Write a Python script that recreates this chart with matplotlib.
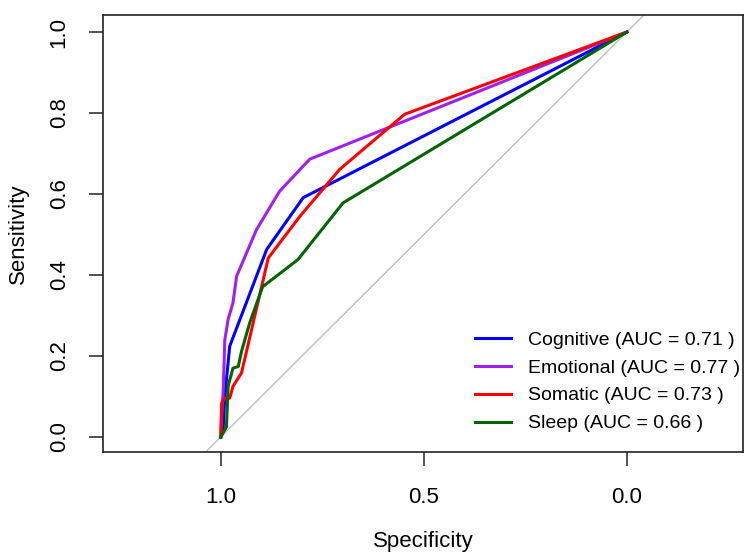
import matplotlib
matplotlib.use("Agg")
import matplotlib.pyplot as plt

plt.rcParams['font.family'] = ['Liberation Sans', 'DejaVu Sans']

# ROC curves (specificity, sensitivity)
cog_spec = [1.0, 0.994, 0.990, 0.978, 0.887, 0.797, 0.0]
cog_sens = [0.0, 0.025, 0.100, 0.224, 0.463, 0.591, 1.0]

emo_spec = [1.0, 0.998, 0.994, 0.990, 0.982, 0.970, 0.961, 0.912, 0.855, 0.781, 0.0]
emo_sens = [0.0, 0.050, 0.116, 0.240, 0.290, 0.331, 0.397, 0.512, 0.607, 0.686, 1.0]

som_spec = [1.0, 0.998, 0.990, 0.978, 0.970, 0.949, 0.883, 0.805, 0.707, 0.547, 0.0]
som_sens = [0.0, 0.083, 0.096, 0.096, 0.125, 0.158, 0.442, 0.545, 0.661, 0.797, 1.0]

slp_spec = [1.0, 0.986, 0.982, 0.970, 0.957, 0.949, 0.929, 0.897, 0.810, 0.699, 0.0]
slp_sens = [0.0, 0.025, 0.125, 0.170, 0.174, 0.211, 0.281, 0.371, 0.438, 0.578, 1.0]

labels = ["Cognitive (AUC = 0.71 )", "Emotional (AUC = 0.77 )",
          "Somatic (AUC = 0.73 )", "Sleep (AUC = 0.66 )"]
colors = ["#0000FF", "#A020F0", "#FF0000", "#006400"]

fig = plt.figure(figsize=(7.44, 5.52), dpi=100)
ax = fig.add_axes([103 / 744, 1 - 452 / 552, 640 / 744, 437 / 552])

# chance diagonal
ax.plot([1.5, -0.5], [-0.5, 1.5], color="#BEBEBE", lw=1.0, zorder=1)

curves = [(cog_spec, cog_sens), (emo_spec, emo_sens),
          (som_spec, som_sens), (slp_spec, slp_sens)]
for (sp, se), col, lab in zip(curves, colors, labels):
    ax.plot(sp, se, color=col, lw=2.2, label=lab, zorder=2)

ax.set_xlim(1.29, -0.286)
ax.set_ylim(-0.037, 1.042)
ax.set_xticks([1.0, 0.5, 0.0])
ax.set_xticklabels(["1.0", "0.5", "0.0"])
ax.set_yticks([0.0, 0.2, 0.4, 0.6, 0.8, 1.0])
ax.set_yticklabels(["0.0", "0.2", "0.4", "0.6", "0.8", "1.0"], rotation=90, va="center")

ax.tick_params(axis="x", length=10, width=1.1, pad=15.5, labelsize=16, color="#222222")
ax.tick_params(axis="y", length=10, width=1.1, pad=14, labelsize=16, color="#222222")
for s in ax.spines.values():
    s.set_linewidth(1.2)
    s.set_color("#222222")

ax.set_xlabel("Specificity", fontsize=16, labelpad=16)
ax.set_ylabel("Sensitivity", fontsize=16, labelpad=14)

ax.legend(loc="upper left", bbox_to_anchor=(475 / 744, 1 - 331 / 552),
          bbox_transform=fig.transFigure, frameon=False, fontsize=14,
          handlelength=1.85, handletextpad=0.85, labelspacing=0.53,
          borderpad=0, borderaxespad=0)

fig.savefig("out.png", dpi=100)
